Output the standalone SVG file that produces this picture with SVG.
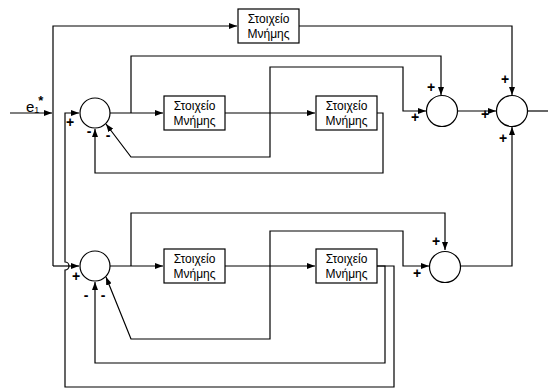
<svg xmlns="http://www.w3.org/2000/svg" width="548" height="388" viewBox="0 0 548 388">
<defs>
<marker id="ah" markerWidth="8" markerHeight="6" refX="8" refY="3" orient="auto" markerUnits="userSpaceOnUse">
<path d="M0,0 L8,3 L0,6 z" fill="#000"/>
</marker>
<style>
.w{fill:none;stroke:#000;stroke-width:1.2}
.a{marker-end:url(#ah)}
.box{fill:#fff;stroke:#000;stroke-width:1.2}
.sum{fill:#fff;stroke:#000;stroke-width:1.2}
.t{font-family:"Liberation Sans",Arial,sans-serif;font-size:12px;text-anchor:middle;fill:#000}
.s{font-family:"Liberation Sans",Arial,sans-serif;font-size:14px;font-weight:bold;text-anchor:middle;fill:#000}
</style>
</defs>
<g id="connectors">
<path class="w a" d="M10,113 H52"/>
<path class="w a" d="M53,266 V26 H237"/>
<path class="w a" d="M53,266 H79"/>
<path class="w a" d="M299,26 H512 V95"/>
<path class="w a" d="M110,113 H163"/>
<path class="w a" d="M131,113 V56 H441 V95"/>
<path class="w a" d="M225,113 H315"/>
<path class="w a" d="M270,113 V67 H403 V111 H426"/>
<path class="w a" d="M270,113 V157 H131 L106,124"/>
<path class="w a" d="M377,113 H383 V173 H95 V129"/>
<path class="w a" d="M457,111 H496"/>
<path class="w" d="M527,111 H548"/>
<path class="w a" d="M460,266 H512 V127"/>
<path class="w a" d="M110,266 H163"/>
<path class="w a" d="M131,266 V213 H445 V250"/>
<path class="w a" d="M225,266 H315"/>
<path class="w a" d="M270,266 V231 H403 V266 H429"/>
<path class="w a" d="M270,266 V339 H131 L106,277"/>
<path class="w a" d="M377,266 H385 V363 H95 V282"/>
<path class="w a" d="M377,266 H394 V387 H65 V270 A4,4 0 0 0 65,262 V113 H79"/>
</g>
<g id="mem0"><rect class="box" x="238" y="9" width="61" height="34"/><text class="t" x="268.5" y="23">Στοιχείο</text><text class="t" x="268.5" y="38">Μνήμης</text></g>
<g id="mem1"><rect class="box" x="164" y="96" width="61" height="34"/><text class="t" x="194.5" y="110">Στοιχείο</text><text class="t" x="194.5" y="125">Μνήμης</text></g>
<g id="mem2"><rect class="box" x="316" y="96" width="61" height="34"/><text class="t" x="346.5" y="110">Στοιχείο</text><text class="t" x="346.5" y="125">Μνήμης</text></g>
<g id="mem3"><rect class="box" x="164" y="249" width="61" height="34"/><text class="t" x="194.5" y="263">Στοιχείο</text><text class="t" x="194.5" y="278">Μνήμης</text></g>
<g id="mem4"><rect class="box" x="316" y="249" width="61" height="34"/><text class="t" x="346.5" y="263">Στοιχείο</text><text class="t" x="346.5" y="278">Μνήμης</text></g>
<g id="sumA1"><circle class="sum" cx="95" cy="113" r="15"/></g>
<g id="sumA2"><circle class="sum" cx="442" cy="111" r="15.5"/></g>
<g id="sumA3"><circle class="sum" cx="512" cy="111" r="15.5"/></g>
<g id="sumB1"><circle class="sum" cx="95" cy="266" r="15"/></g>
<g id="sumB2"><circle class="sum" cx="445" cy="267" r="15.5"/></g>
<g id="labels">
<text x="26" y="112" font-family="Liberation Sans,Arial,sans-serif" font-size="15">e<tspan font-size="9" dy="1">1</tspan><tspan font-size="13" font-weight="bold" dx="-1" dy="-8">*</tspan></text>
<text class="s" x="70" y="127">+</text>
<text class="s" x="89" y="136">-</text>
<text class="s" x="108" y="140">-</text>
<text class="s" x="431" y="92">+</text>
<text class="s" x="415" y="122">+</text>
<text class="s" x="505" y="84">+</text>
<text class="s" x="485" y="119">+</text>
<text class="s" x="503" y="143">+</text>
<text class="s" x="76" y="281">+</text>
<text class="s" x="86" y="300">-</text>
<text class="s" x="103" y="300">-</text>
<text class="s" x="436" y="246">+</text>
<text class="s" x="417" y="278">+</text>
</g>
</svg>
